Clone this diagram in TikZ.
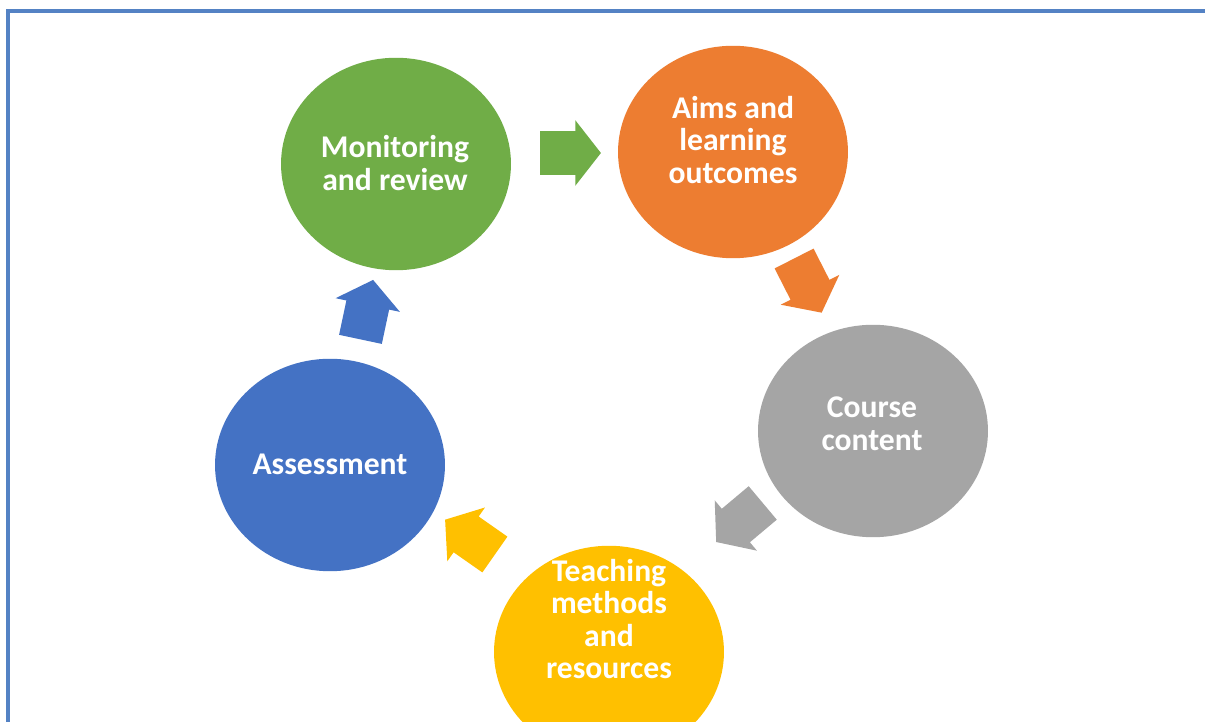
\documentclass[tikz,border=0pt]{standalone}
\usepackage{fontspec}
\setmainfont{Carlito}
\usetikzlibrary{shapes.geometric,shapes.arrows}
\definecolor{cgreen}{RGB}{112,173,71}
\definecolor{corange}{RGB}{237,125,49}
\definecolor{cgray}{RGB}{165,165,165}
\definecolor{cyellow}{RGB}{255,192,0}
\definecolor{cblue}{RGB}{68,114,196}
\definecolor{cframe}{RGB}{84,130,196}
\begin{document}
\begin{tikzpicture}[x=0.02cm,y=-0.02cm,
    disc/.style={ellipse,minimum width=4.6cm,minimum height=4.25cm,inner sep=0pt},
    lbl/.style={text=white,font=\bfseries\fontsize{18pt}{18.5pt}\selectfont,align=center},
    blockarrow/.style={single arrow,minimum height=0.98cm,inner sep=0.43cm,
      single arrow head extend=0.22cm,single arrow tip angle=104}]
  \clip (0,0) rectangle (1205,722);
  \fill [white] (0,0) rectangle (1205,722);
  \draw [cframe,line width=2.2pt] (8,740) -- (8,11) -- (1220,11);
  % the five stages
  \node [disc,fill=cgreen] (mon) at (396,164) {};
  \node [disc,fill=corange] (aims) at (733,152) {};
  \node [disc,fill=cgray] (course) at (873,431) {};
  \node [disc,fill=cblue] (assess) at (330,465) {};
  \node [disc,fill=cyellow] (teach) at (609,652) {};
  \node [lbl] (monT) at (395,163) {Monitoring\\and review};
  \node [lbl] (aimsT) at (733,140) {Aims and\\learning\\outcomes};
  \node [lbl] (courseT) at (872,424) {Course\\content};
  \node [lbl] (assessT) at (330,464) {Assessment};
  \node [lbl] (teachT) at (609,619) {Teaching\\methods\\and\\resources};
  % arrows going round the cycle
  \node [blockarrow,fill=cgreen] (a1) at (562,153) {};
  \node [blockarrow,fill=corange,rotate=-63] (a2) at (804,278) {};
  \node [blockarrow,fill=cgray,rotate=220] (a3) at (746,517) {};
  \node [blockarrow,fill=cyellow,rotate=145] (a4) at (477,542) {};
  \node [blockarrow,fill=cblue,rotate=78] (a5) at (365,318) {};
\end{tikzpicture}
\end{document}
